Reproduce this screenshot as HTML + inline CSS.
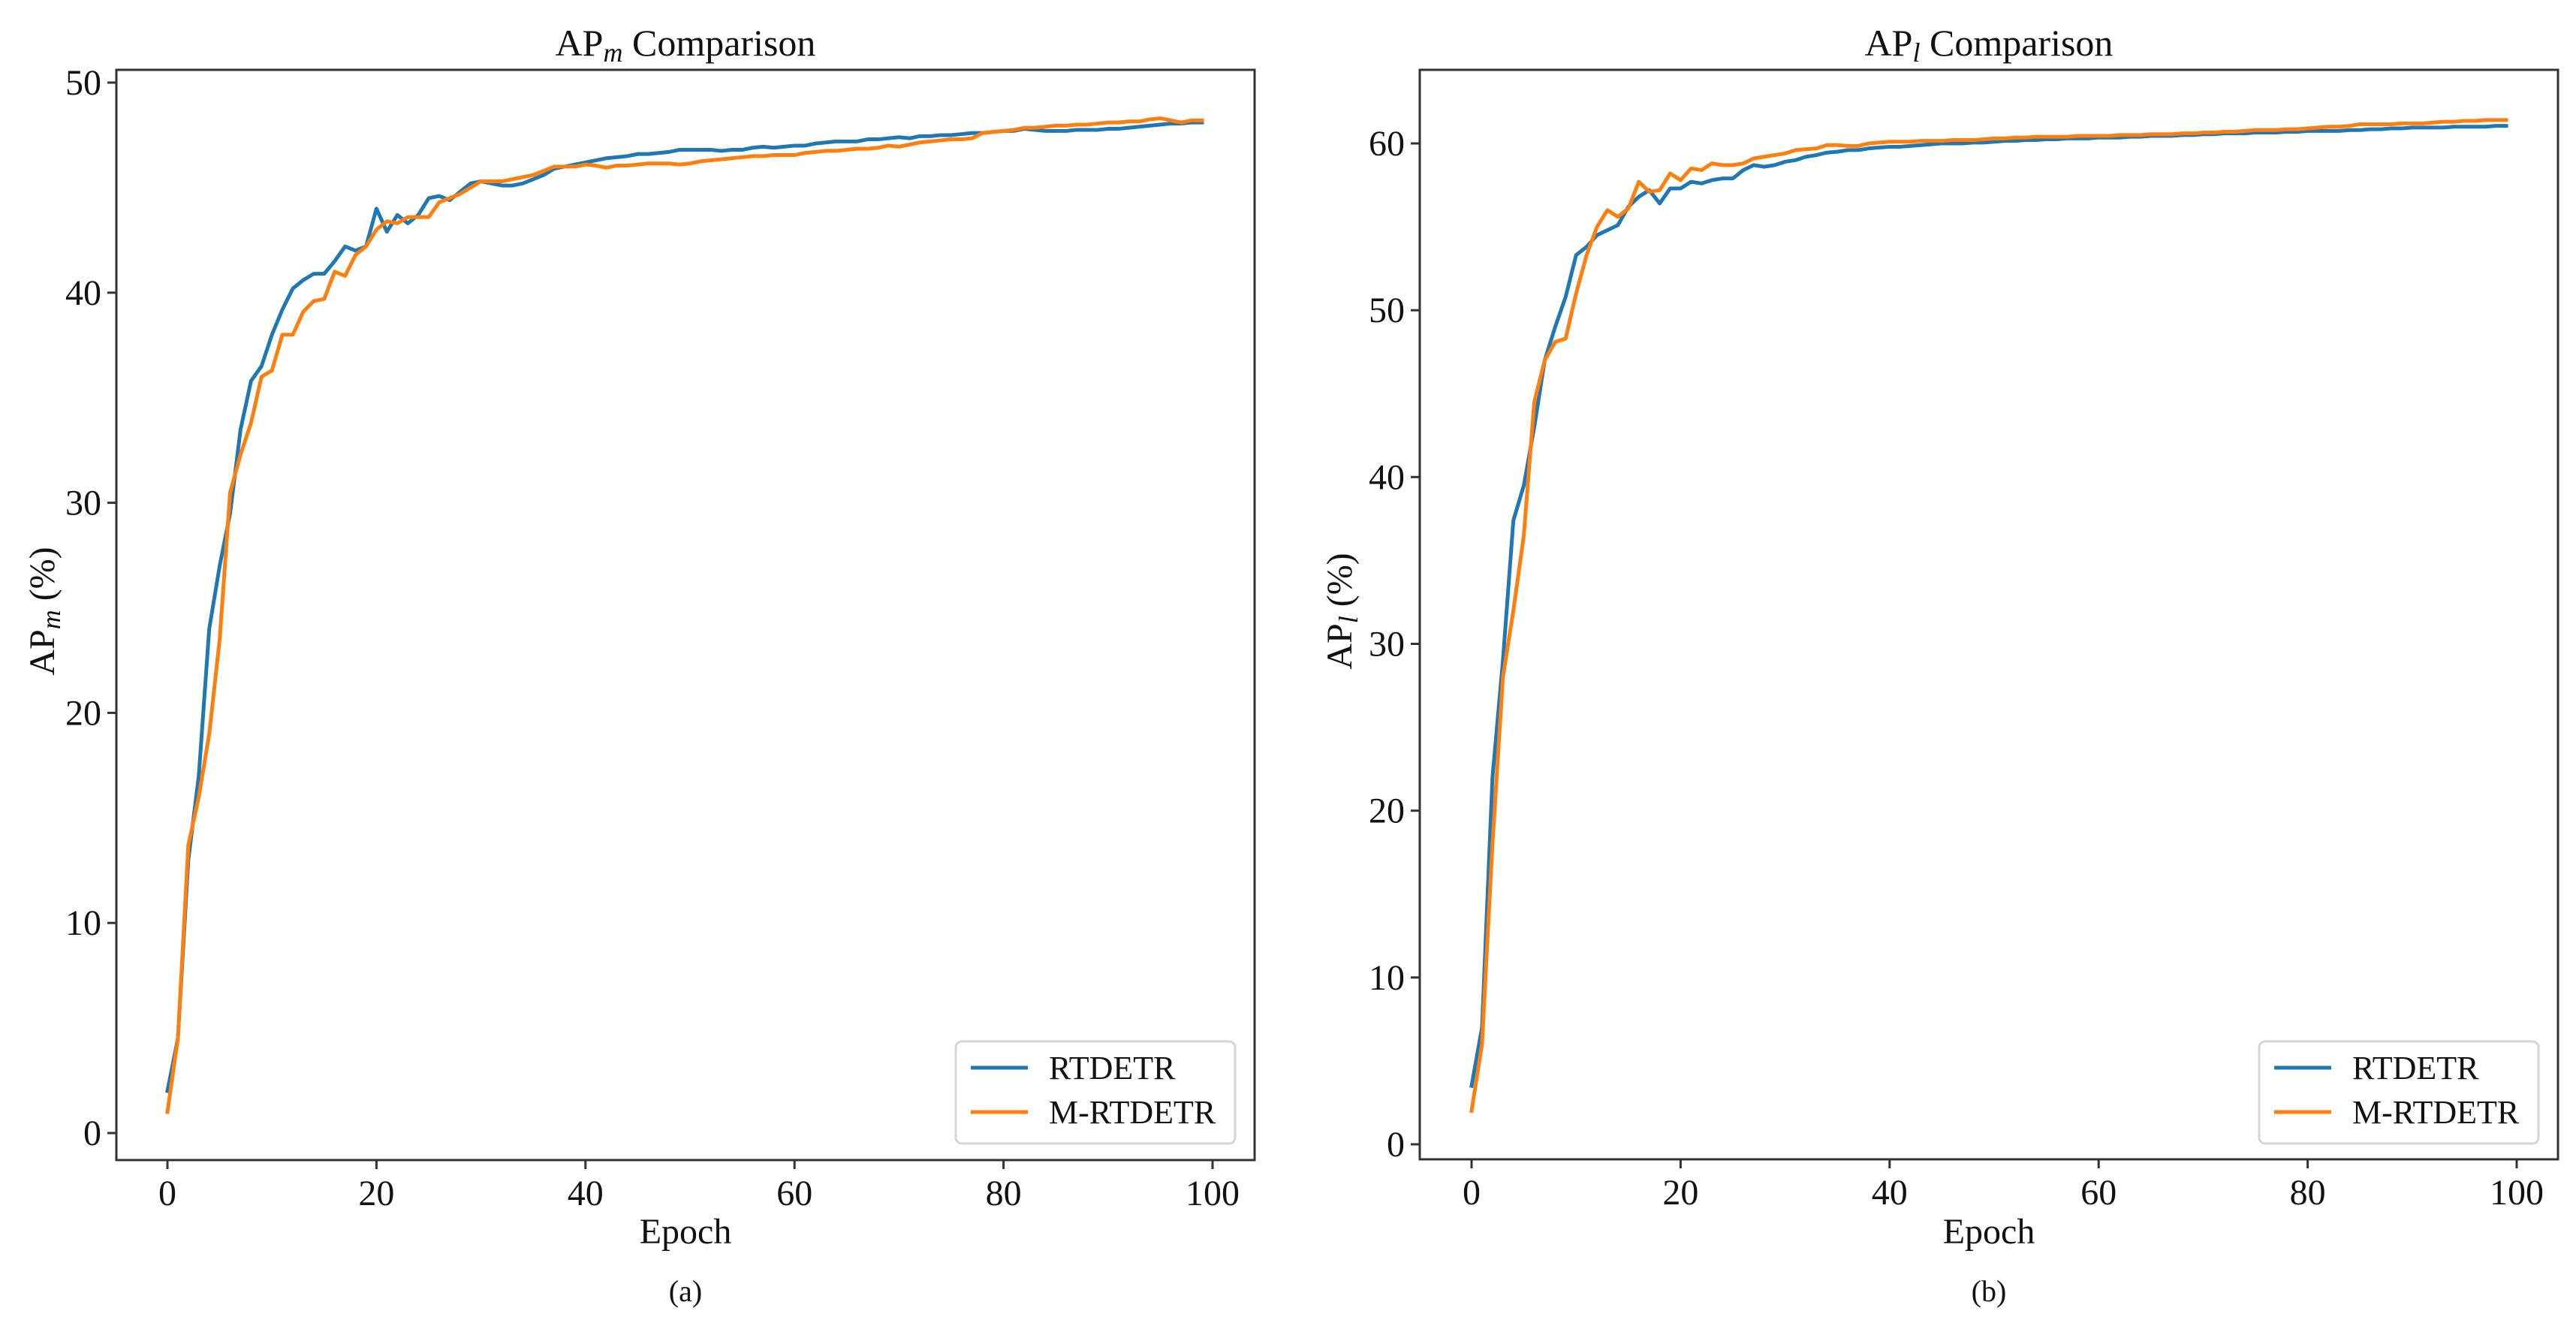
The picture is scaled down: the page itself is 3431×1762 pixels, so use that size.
<!DOCTYPE html>
<html><head><meta charset="utf-8"><style>
html,body{margin:0;padding:0;background:#fff;}
svg{display:block;font-family:"Liberation Serif","DejaVu Serif",serif;}
</style></head><body>
<svg id="fig" width="3431" height="1762" viewBox="0 0 3431 1762" xmlns="http://www.w3.org/2000/svg"></svg>
<script>
const epochs = Array.from({length:100},(_,i)=>i);
const xTicks = [0,20,40,60,80,100];
const yTicksA = [0,10,20,30,40,50];
const yTicksB = [0,10,20,30,40,50,60];
const seriesNames = ["RTDETR","M-RTDETR"];
const apmRtdetr = [2,4.5,13,17,24,27,29.5,33.5,35.8,36.5,38,39.2,40.2,40.6,40.9,40.9,41.5,42.2,42,42.2,44,42.9,43.7,43.3,43.7,44.5,44.6,44.4,44.8,45.2,45.3,45.2,45.1,45.1,45.2,45.4,45.6,45.9,46,46.1,46.2,46.3,46.4,46.45,46.5,46.6,46.6,46.65,46.7,46.8,46.8,46.8,46.8,46.75,46.8,46.8,46.9,46.95,46.9,46.95,47,47,47.1,47.15,47.2,47.2,47.2,47.3,47.3,47.35,47.4,47.35,47.45,47.45,47.5,47.5,47.55,47.6,47.6,47.65,47.7,47.7,47.8,47.75,47.7,47.7,47.7,47.75,47.75,47.75,47.8,47.8,47.85,47.9,47.95,48,48.05,48.05,48.1,48.1];
const apmMrtdetr = [1,4.5,13.7,16,19,23.5,30.5,32.3,33.8,36,36.3,38,38,39.1,39.6,39.7,41,40.8,41.8,42.2,43,43.4,43.3,43.6,43.6,43.6,44.3,44.5,44.7,45,45.3,45.3,45.3,45.4,45.5,45.6,45.8,46,46,46,46.1,46.05,45.95,46.05,46.05,46.1,46.15,46.15,46.15,46.1,46.15,46.25,46.3,46.35,46.4,46.45,46.5,46.5,46.55,46.55,46.55,46.65,46.7,46.75,46.75,46.8,46.85,46.85,46.9,47,46.95,47.05,47.15,47.2,47.25,47.3,47.3,47.35,47.6,47.65,47.7,47.75,47.85,47.85,47.9,47.95,47.95,48,48,48.05,48.1,48.1,48.15,48.15,48.25,48.3,48.2,48.1,48.2,48.2];
const aplRtdetr = [3.5,7,22,29,37.4,39.5,43,47,49,50.8,53.3,53.8,54.5,54.8,55.1,56.2,56.8,57.2,56.4,57.3,57.3,57.7,57.6,57.8,57.9,57.9,58.4,58.7,58.6,58.7,58.9,59,59.2,59.3,59.45,59.5,59.6,59.6,59.7,59.75,59.8,59.8,59.85,59.9,59.95,60,60,60,60.05,60.05,60.1,60.15,60.15,60.2,60.2,60.25,60.25,60.3,60.3,60.3,60.35,60.35,60.35,60.4,60.4,60.45,60.45,60.45,60.5,60.5,60.55,60.55,60.6,60.6,60.6,60.65,60.65,60.65,60.7,60.7,60.75,60.75,60.75,60.75,60.8,60.8,60.85,60.85,60.9,60.9,60.95,60.95,60.95,60.95,61,61,61,61,61.05,61.05];
const aplMrtdetr = [2,6,18,28,32,36.5,44.5,47,48.1,48.3,51,53.3,55,56,55.6,56.1,57.7,57.1,57.2,58.2,57.8,58.5,58.4,58.8,58.7,58.7,58.8,59.1,59.2,59.3,59.4,59.6,59.65,59.7,59.9,59.9,59.85,59.85,60,60.05,60.1,60.1,60.1,60.15,60.15,60.15,60.2,60.2,60.2,60.25,60.3,60.3,60.35,60.35,60.4,60.4,60.4,60.4,60.45,60.45,60.45,60.45,60.5,60.5,60.5,60.55,60.55,60.55,60.6,60.6,60.65,60.65,60.7,60.7,60.75,60.8,60.8,60.8,60.85,60.85,60.9,60.95,61,61,61.05,61.15,61.15,61.15,61.15,61.2,61.2,61.2,61.25,61.3,61.3,61.35,61.35,61.4,61.4,61.4];

const NS="http://www.w3.org/2000/svg";
const svg=document.getElementById('fig');
function mk(tag,attrs,parent){const e=document.createElementNS(NS,tag);for(const k in attrs)e.setAttribute(k,attrs[k]);(parent||svg).appendChild(e);return e;}

function panel(cfg){
  const g=mk('g',{});
  
  
  const xs=v=>cfg.x0px+(v-0)*(cfg.x100px-cfg.x0px)/100;
  const ys=v=>cfg.y0px-v*cfg.pxPerUnit;
  // lines
  const cols=['#1f77b4','#ff7f0e'];
  [cfg.s1,cfg.s2].forEach((s,si)=>{
    const d=s.map((v,i)=>(i?'L':'M')+xs(epochs[i]).toFixed(2)+' '+ys(v).toFixed(2)).join(' ');
    const p=mk('path',{d:d,fill:'none',stroke:cols[si],'stroke-width':5,'stroke-linejoin':'round','stroke-linecap':'square'},g);
    
    
  });
  // frame
  const fr=mk('rect',{x:cfg.L,y:cfg.T,width:cfg.R-cfg.L,height:cfg.B-cfg.T,fill:'none',stroke:'#333','stroke-width':3},g);
  
  
  xTicks.forEach(t=>{
    const x=xs(t);
    mk('line',{x1:x,x2:x,y1:cfg.B,y2:cfg.B+12,stroke:'#333','stroke-width':3},g);
    const tx=mk('text',{x:x,y:cfg.B+60,'font-size':48,'text-anchor':'middle',fill:'#111'},g);
    tx.textContent=t;
    
    
  });
  cfg.yt.forEach(t=>{
    const y=ys(t);
    mk('line',{x1:cfg.L-12,x2:cfg.L,y1:y,y2:y,stroke:'#333','stroke-width':3},g);
    const tx=mk('text',{x:cfg.L-20,y:y+16,'font-size':48,'text-anchor':'end',fill:'#111'},g);
    tx.textContent=t;
    
    
  });
  const cx=(cfg.L+cfg.R)/2;
  const ti=mk('text',{x:cx,y:74,'font-size':50,'text-anchor':'middle',fill:'#111'},g);
  ti.innerHTML='AP<tspan font-style="italic" font-size="36" dy="8">'+cfg.sub+'</tspan><tspan dy="-8"> Comparison</tspan>';
  
  
  const xl=mk('text',{x:cx,y:1656,'font-size':48,'text-anchor':'middle',fill:'#111'},g);
  xl.textContent='Epoch';
  
  
  const yl=mk('text',{x:0,y:0,'font-size':48,'text-anchor':'middle',fill:'#111',transform:'translate('+cfg.ylx+',814) rotate(-90)'},g);
  yl.innerHTML='AP<tspan font-style="italic" font-size="36" dy="8">'+cfg.sub+'</tspan><tspan dy="-8"> (%)</tspan>';
  
  
  const cap=mk('text',{x:cx,y:1733,'font-size':40,'text-anchor':'middle',fill:'#111'},g);
  cap.textContent=cfg.cap;
  
  
  // legend
  const lg=mk('g',{},g);
  
  
  const lx=cfg.R-26-372;
  mk('rect',{x:lx,y:1387,width:372,height:136,rx:8,fill:'#fff','fill-opacity':0.85,stroke:'#d5d5d5','stroke-width':3},lg);
  seriesNames.forEach((n,i)=>{
    const yy=1422+i*59;
    mk('line',{x1:lx+20,x2:lx+96,y1:yy,y2:yy,stroke:cols[i],'stroke-width':5},lg);
    const t=mk('text',{x:lx+124,y:yy+15,'font-size':44,fill:'#111'},lg);
    t.textContent=n;
    
    
  });
}
panel({name:'apm-chart',L:155,R:1671,T:93,B:1545,x0px:223,x100px:1615,y0px:1509,pxPerUnit:(1509-110)/50,yt:yTicksA,s1:apmRtdetr,s2:apmMrtdetr,sub:'m',cap:'(a)',ylx:72});
panel({name:'apl-chart',L:1891,R:3407,T:93,B:1544,x0px:1960,x100px:3352,y0px:1524,pxPerUnit:(1524-191)/60,yt:yTicksB,s1:aplRtdetr,s2:aplMrtdetr,sub:'l',cap:'(b)',ylx:1800});
</script>
</body></html>
